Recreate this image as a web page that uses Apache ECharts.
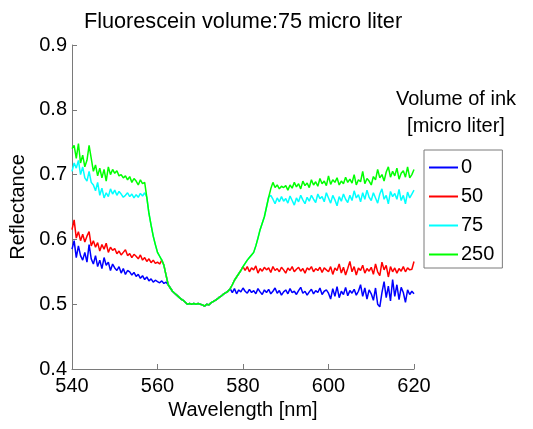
<!DOCTYPE html>
<html>
<head>
<meta charset="utf-8">
<script src="https://cdn.jsdelivr.net/npm/echarts@6/dist/echarts.min.js"></script>
<style>html,body{margin:0;padding:0;background:#fff}#c{width:533px;height:429px}</style>
</head>
<body>
<div id="c"></div>
<script>
// Wavelength grid: 540 to 620 nm, 0.5 nm steps (161 samples)
const wlStart = 540, wlStep = 0.5, wlCount = 161;
const legendNames = ['0', '50', '75', '250'];
const xTicks = [540, 560, 580, 600, 620];
const yTicks = [0.4, 0.5, 0.6, 0.7, 0.8, 0.9];

const ink0 = [
  0.585,0.598,0.572,0.590,0.575,0.568,0.580,0.565,0.592,0.570,0.562,
  0.575,0.558,0.568,0.555,0.572,0.560,0.565,0.552,0.562,0.556,
  0.552,0.558,0.548,0.555,0.546,0.552,0.550,0.545,0.549,0.543,
  0.546,0.540,0.544,0.538,0.542,0.536,0.539,0.534,0.537,0.535,
  0.533,0.536,0.532,0.534,0.530,0.525,0.520,0.517,0.514,0.511,
  0.508,0.506,0.503,0.500,0.501,0.500,0.501,0.500,0.501,0.500,
  0.499,0.497,0.500,0.499,0.502,0.504,0.506,0.508,0.511,0.513,
  0.516,0.518,0.520,0.524,0.518,0.524,0.516,0.522,0.519,0.525,
  0.520,0.517,0.523,0.518,0.521,0.516,0.524,0.519,0.515,0.522,
  0.518,0.523,0.516,0.520,0.525,0.517,0.521,0.514,0.519,0.522,
  0.516,0.524,0.518,0.520,0.515,0.521,0.526,0.517,0.520,0.514,
  0.519,0.523,0.516,0.521,0.518,0.525,0.515,0.520,0.522,0.517,
  0.508,0.524,0.512,0.527,0.510,0.520,0.515,0.526,0.513,0.521,
  0.517,0.523,0.514,0.520,0.530,0.512,0.525,0.508,0.522,0.516,
  0.506,0.525,0.500,0.496,0.518,0.535,0.510,0.528,0.505,0.538,
  0.512,0.530,0.507,0.526,0.518,0.503,0.522,0.515,0.520,0.516
];
const ink50 = [
  0.615,0.630,0.602,0.612,0.598,0.608,0.596,0.605,0.612,0.590,0.598,
  0.588,0.595,0.582,0.592,0.585,0.594,0.580,0.588,0.583,0.586,
  0.578,0.582,0.576,0.580,0.584,0.575,0.578,0.572,0.577,0.574,
  0.570,0.576,0.568,0.572,0.566,0.570,0.564,0.568,0.563,0.565,
  0.562,0.568,0.560,0.545,0.530,0.525,0.520,0.517,0.514,0.511,
  0.508,0.506,0.503,0.500,0.501,0.500,0.501,0.500,0.501,0.500,
  0.499,0.497,0.500,0.499,0.502,0.504,0.506,0.508,0.511,0.513,
  0.516,0.518,0.520,0.524,0.530,0.537,0.542,0.547,0.552,0.558,
  0.552,0.558,0.550,0.556,0.553,0.559,0.548,0.555,0.551,0.557,
  0.553,0.556,0.549,0.558,0.552,0.555,0.550,0.557,0.553,0.548,
  0.556,0.552,0.558,0.550,0.554,0.557,0.551,0.555,0.548,0.556,
  0.553,0.558,0.550,0.555,0.552,0.557,0.549,0.556,0.553,0.550,
  0.558,0.546,0.556,0.552,0.562,0.548,0.557,0.545,0.555,0.566,
  0.550,0.558,0.545,0.556,0.552,0.560,0.548,0.555,0.551,0.557,
  0.546,0.562,0.550,0.544,0.565,0.553,0.560,0.542,0.558,0.550,
  0.556,0.548,0.555,0.551,0.558,0.550,0.556,0.553,0.554,0.566
];
const ink75 = [
  0.705,0.718,0.710,0.722,0.700,0.712,0.695,0.690,0.705,0.688,0.684,
  0.675,0.688,0.668,0.679,0.664,0.672,0.666,0.678,0.670,0.676,
  0.668,0.674,0.670,0.665,0.668,0.672,0.666,0.670,0.664,0.669,
  0.665,0.671,0.667,0.672,0.665,0.640,0.622,0.605,0.592,0.580,
  0.574,0.568,0.560,0.545,0.530,0.525,0.520,0.517,0.514,0.511,
  0.508,0.506,0.503,0.500,0.501,0.500,0.501,0.500,0.501,0.500,
  0.499,0.497,0.500,0.499,0.502,0.504,0.506,0.508,0.511,0.513,
  0.516,0.518,0.520,0.524,0.530,0.537,0.542,0.547,0.552,0.558,
  0.563,0.568,0.572,0.576,0.580,0.590,0.602,0.615,0.625,0.635,
  0.650,0.665,0.668,0.662,0.655,0.664,0.658,0.666,0.659,0.663,
  0.656,0.667,0.660,0.653,0.664,0.658,0.668,0.661,0.655,0.665,
  0.659,0.668,0.662,0.657,0.670,0.663,0.666,0.658,0.672,0.664,
  0.656,0.668,0.661,0.652,0.666,0.659,0.670,0.662,0.657,0.668,
  0.660,0.675,0.664,0.669,0.658,0.672,0.662,0.676,0.665,0.660,
  0.672,0.664,0.656,0.670,0.678,0.662,0.668,0.655,0.674,0.666,
  0.671,0.662,0.677,0.660,0.668,0.655,0.673,0.664,0.670,0.676
];
const ink250 = [
  0.740,0.745,0.725,0.748,0.718,0.730,0.712,0.722,0.745,0.725,0.705,
  0.715,0.698,0.710,0.695,0.708,0.690,0.712,0.700,0.708,0.702,
  0.706,0.698,0.700,0.695,0.698,0.692,0.697,0.688,0.694,0.690,
  0.684,0.692,0.686,0.688,0.665,0.640,0.622,0.605,0.592,0.580,
  0.574,0.568,0.560,0.545,0.530,0.525,0.520,0.517,0.514,0.511,
  0.508,0.506,0.503,0.500,0.501,0.500,0.501,0.500,0.501,0.500,
  0.499,0.497,0.500,0.499,0.502,0.504,0.506,0.508,0.511,0.513,
  0.516,0.518,0.520,0.524,0.530,0.537,0.542,0.547,0.552,0.558,
  0.563,0.568,0.572,0.576,0.580,0.590,0.602,0.615,0.625,0.635,
  0.650,0.665,0.678,0.688,0.680,0.684,0.678,0.682,0.680,0.683,
  0.676,0.684,0.679,0.688,0.681,0.686,0.678,0.690,0.683,0.687,
  0.680,0.692,0.684,0.689,0.682,0.694,0.686,0.690,0.683,0.698,
  0.685,0.692,0.688,0.695,0.684,0.690,0.686,0.696,0.688,0.693,
  0.687,0.700,0.684,0.692,0.689,0.705,0.686,0.694,0.690,0.684,
  0.697,0.692,0.708,0.695,0.700,0.690,0.704,0.712,0.696,0.705,
  0.698,0.710,0.693,0.702,0.706,0.696,0.712,0.695,0.700,0.708
];

const seriesValues = [ink0, ink50, ink75, ink250];
const colors = ['#0000ff', '#ff0000', '#00ffff', '#00ff00'];
const wavelengths = [];
for (let i = 0; i < wlCount; i++) wavelengths.push(wlStart + i * wlStep);

const FONT = 'Liberation Sans, Arial, sans-serif';
const chart = echarts.init(document.getElementById('c'));
chart.setOption({
  animation: false,
  backgroundColor: '#fff',
  title: {
    text: 'Fluorescein volume:75 micro liter',
    left: 238, top: 6, textAlign: 'center',
    textStyle: { fontFamily: FONT, fontSize: 21.7, fontWeight: 'normal', color: '#000' }
  },
  grid: { left: 72, right: 119, top: 45, bottom: 60 },
  xAxis: {
    type: 'value', min: 540, max: 620, interval: 20,
    name: 'Wavelength [nm]', nameLocation: 'middle', nameGap: 31,
    nameTextStyle: { fontFamily: FONT, fontSize: 20, color: '#000' },
    axisLine: { lineStyle: { color: '#7a7a7a', width: 1 } },
    axisTick: { inside: true, length: 5, lineStyle: { color: '#7a7a7a' } },
    axisLabel: { fontFamily: FONT, fontSize: 20, color: '#000', margin: 7,
      formatter: v => xTicks.includes(v) ? String(v) : '' },
    splitLine: { show: false }
  },
  yAxis: {
    type: 'value', min: 0.4, max: 0.9, interval: 0.1,
    name: 'Reflectance', nameLocation: 'middle', nameGap: 39, nameRotate: 90,
    nameTextStyle: { fontFamily: FONT, fontSize: 20, color: '#000' },
    axisLine: { show: true, lineStyle: { color: '#7a7a7a', width: 1 } },
    axisTick: { show: true, inside: true, length: 5, lineStyle: { color: '#7a7a7a' } },
    axisLabel: { fontFamily: FONT, fontSize: 20, color: '#000', margin: 5,
      formatter: v => v.toFixed(1) },
    splitLine: { show: false }
  },
  legend: {
    data: legendNames,
    left: 424, top: 150, orient: 'vertical',
    padding: [7, 8, 3, 5],
    icon: 'rect',
    itemWidth: 29, itemHeight: 2, itemGap: 8,
    borderColor: '#7a7a7a', borderWidth: 1,
    textStyle: { fontFamily: FONT, fontSize: 20, color: '#000', lineHeight: 21, padding: [0, 0, 0, -2] }
  },
  graphic: [
    { type: 'text', x: 456, y: 89, style: { text: 'Volume of ink', font: '20px ' + FONT, fill: '#000', align: 'center' } },
    { type: 'text', x: 456, y: 116, style: { text: '[micro liter]', font: '20px ' + FONT, fill: '#000', align: 'center' } }
  ],
  series: seriesValues.map((vals, k) => ({
    name: legendNames[k], type: 'line', symbol: 'none',
    data: wavelengths.map((w, i) => [w, vals[i]]),
    lineStyle: { color: colors[k], width: 1.5 },
    itemStyle: { color: colors[k] }
  }))
});
</script>
</body>
</html>
